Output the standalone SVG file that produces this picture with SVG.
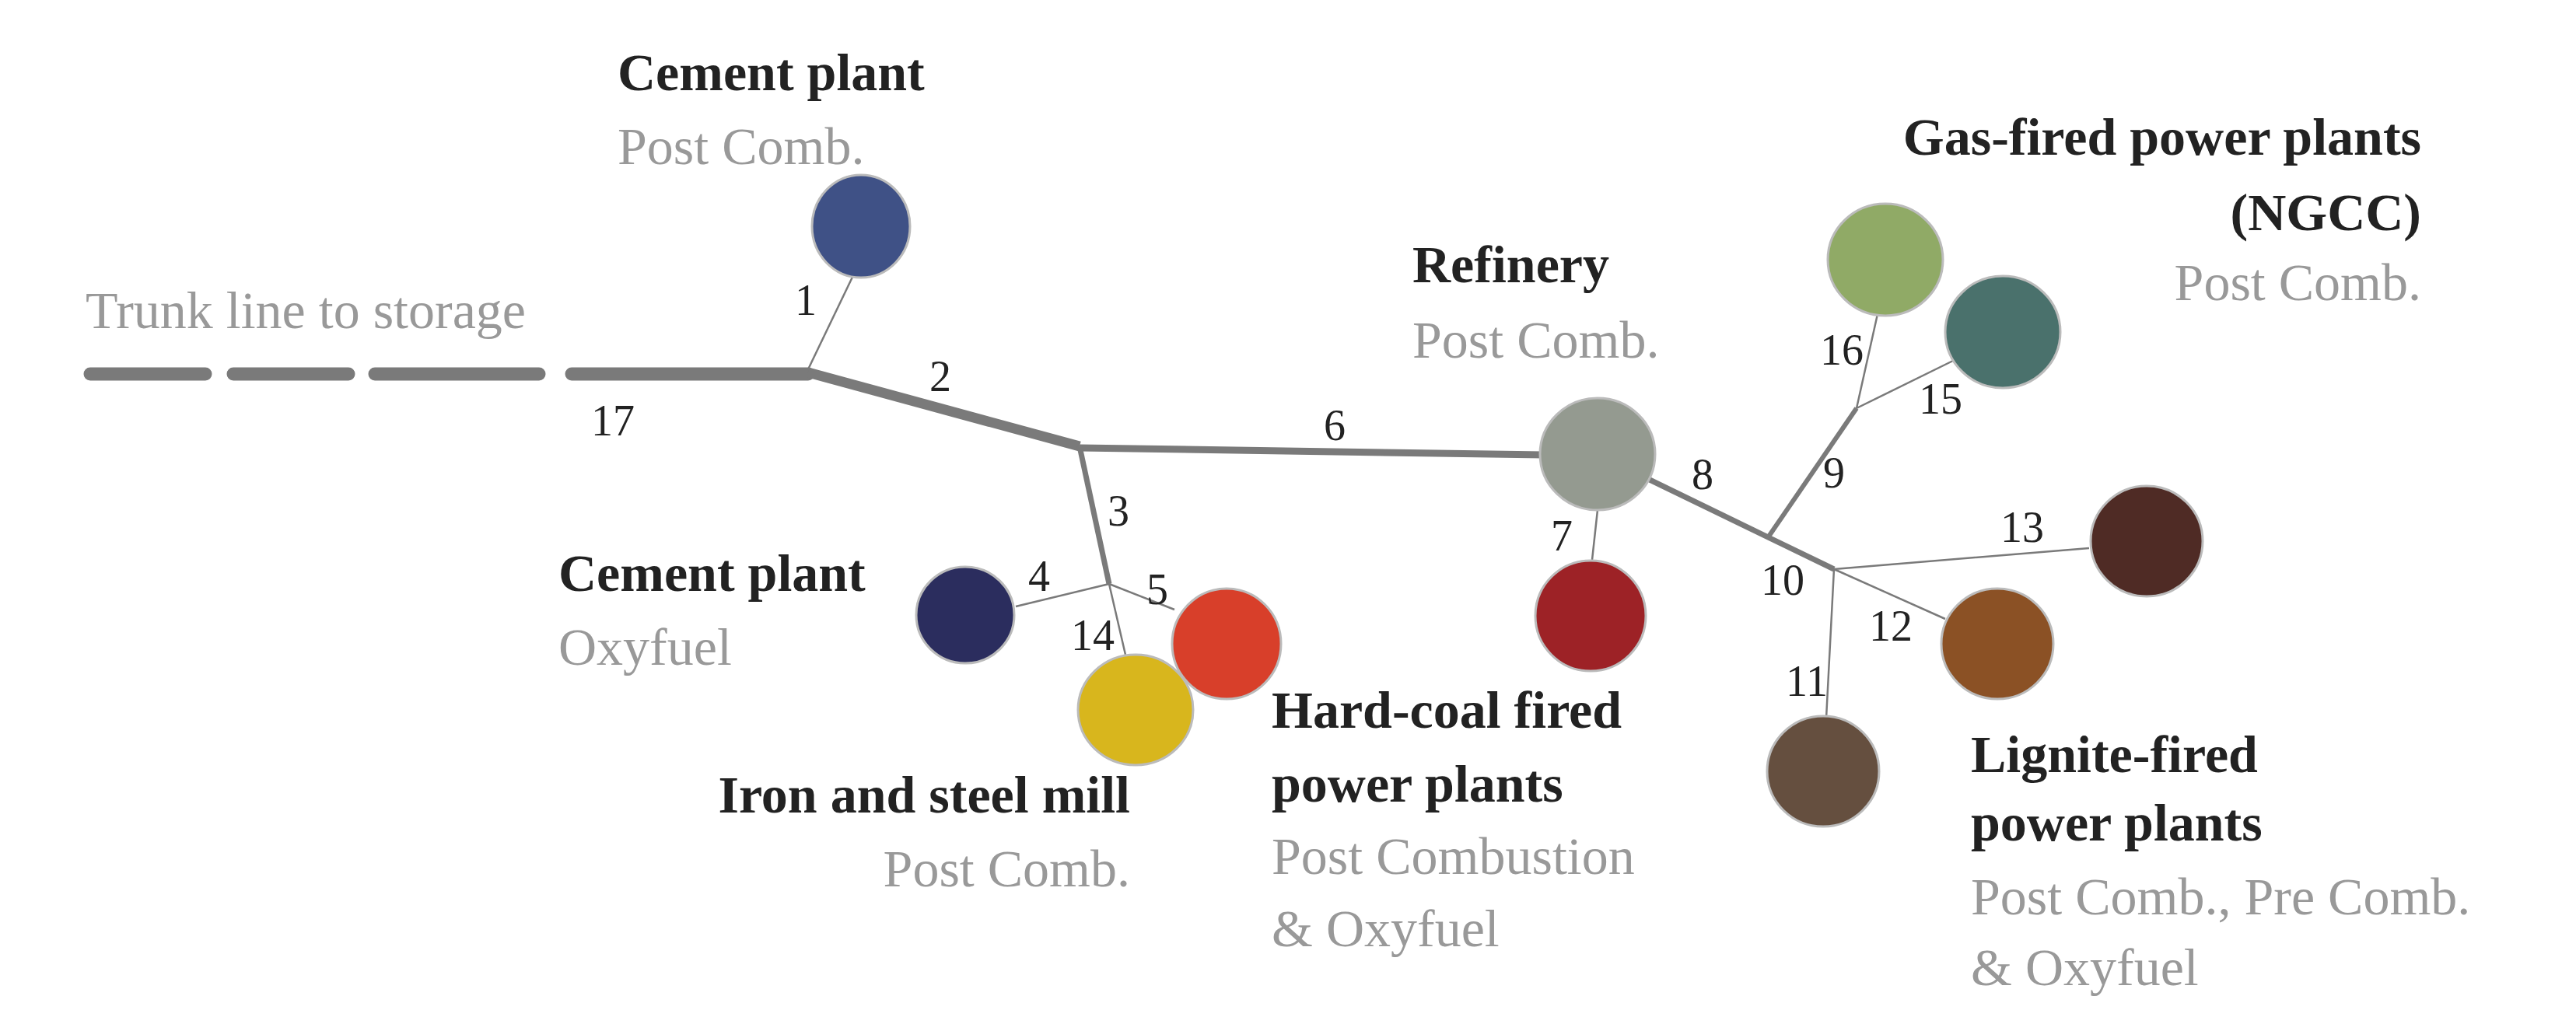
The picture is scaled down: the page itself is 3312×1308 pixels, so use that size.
<svg xmlns="http://www.w3.org/2000/svg" width="3312" height="1308" viewBox="0 0 3312 1308">
<style>
.b{font-family:"Liberation Serif",serif;font-weight:bold;font-size:68px;fill:#222}
.g{font-family:"Liberation Serif",serif;font-size:68px;fill:#999}
.n{font-family:"Liberation Serif",serif;font-size:56px;fill:#222}
.c{stroke:#bbb;stroke-width:3}
.l{stroke:#7a7a7a;fill:none}
</style>
<rect width="3312" height="1308" fill="#fff"/>
<g id="connectors">
<path class="l" d="M116 481H264M300 481H448M482 481H693" stroke-width="17" stroke-linecap="round"/>
<path class="l" d="M735 481H1039" stroke-width="17" stroke-linecap="round"/>
<path class="l" d="M1039 479L1388 574" stroke-width="13"/>
<path class="l" d="M1388 576L1985 585" stroke-width="9"/>
<path class="l" d="M1039 475L1100 348" stroke-width="2.5"/>
<path class="l" d="M1388 574L1426 751" stroke-width="7"/>
<path class="l" d="M1426 751L1447 842M1426 751L1306 780M1426 751L1510 784M2054 656L2047 720" stroke-width="2.5"/>
<path class="l" d="M2121 617L2358 732" stroke-width="7"/>
<path class="l" d="M2274 690L2387 525" stroke-width="6"/>
<path class="l" d="M2387 525L2414 404M2387 525L2513 463M2358 732L2686 705M2358 732L2501 796M2358 732L2348 924" stroke-width="2.5"/>
</g>
<g id="cement-post"><ellipse class="c" cx="1107" cy="291" rx="63" ry="66" fill="#3f5186"/>
<text class="b" x="794" y="116">Cement plant</text><text class="g" x="794" y="211">Post Comb.</text></g>
<g id="trunk"><text class="g" x="110" y="422">Trunk  line  to storage</text></g>
<g id="cement-oxy"><ellipse class="c" cx="1241" cy="791" rx="63" ry="62" fill="#2b2d5e"/>
<text class="b" x="718" y="760">Cement plant</text><text class="g" x="718" y="855">Oxyfuel</text></g>
<g id="steel"><ellipse class="c" cx="1460" cy="913" rx="74" ry="71" fill="#d8b61d"/>
<text class="b" x="1453" y="1045" text-anchor="end">Iron and steel mill</text><text class="g" x="1453" y="1140" text-anchor="end">Post Comb.</text></g>
<g id="hardcoal"><ellipse class="c" cx="1577" cy="828" rx="70" ry="71" fill="#d83f2a"/>
<ellipse class="c" cx="2045" cy="792" rx="71" ry="71" fill="#9d2226"/>
<text class="b" x="1635" y="936">Hard-coal  fired</text><text class="b" x="1635" y="1031">power plants</text>
<text class="g" x="1635" y="1124">Post Combustion</text><text class="g" x="1635" y="1217">&amp; Oxyfuel</text></g>
<g id="refinery"><ellipse class="c" cx="2054" cy="584" rx="74" ry="72" fill="#949a90"/>
<text class="b" x="1816" y="363">Refinery</text><text class="g" x="1816" y="460">Post Comb.</text></g>
<g id="gas"><ellipse class="c" cx="2424" cy="334" rx="74" ry="72" fill="#90aa66"/>
<ellipse class="c" cx="2575" cy="427" rx="74" ry="72" fill="#4a716c"/>
<text class="b" x="3113" y="199" text-anchor="end">Gas-fired power plants</text><text class="b" x="3113" y="296" text-anchor="end">(NGCC)</text>
<text class="g" x="3113" y="386" text-anchor="end">Post Comb.</text></g>
<g id="lignite"><ellipse class="c" cx="2760" cy="696" rx="72" ry="71" fill="#4f2b25"/>
<ellipse class="c" cx="2568" cy="828" rx="72" ry="71" fill="#8b5125"/>
<ellipse class="c" cx="2344" cy="992" rx="72" ry="71" fill="#654f3f"/>
<text class="b" x="2534" y="993">Lignite-fired</text><text class="b" x="2534" y="1081">power plants</text>
<text class="g" x="2534" y="1176">Post Comb., Pre Comb.</text><text class="g" x="2534" y="1267">&amp; Oxyfuel</text></g>
<g id="numbers">
<text class="n" x="760" y="560">17</text><text class="n" x="1022" y="405">1</text><text class="n" x="1195" y="503">2</text>
<text class="n" x="1424" y="676">3</text><text class="n" x="1702" y="566">6</text><text class="n" x="1322" y="760">4</text>
<text class="n" x="1474" y="777">5</text><text class="n" x="1377" y="836">14</text><text class="n" x="1994" y="708">7</text>
<text class="n" x="2175" y="629">8</text><text class="n" x="2344" y="627">9</text><text class="n" x="2340" y="469">16</text>
<text class="n" x="2467" y="532">15</text><text class="n" x="2264" y="765">10</text><text class="n" x="2572" y="697">13</text>
<text class="n" x="2403" y="824">12</text><text class="n" x="2296" y="895">11</text>
</g>
</svg>
